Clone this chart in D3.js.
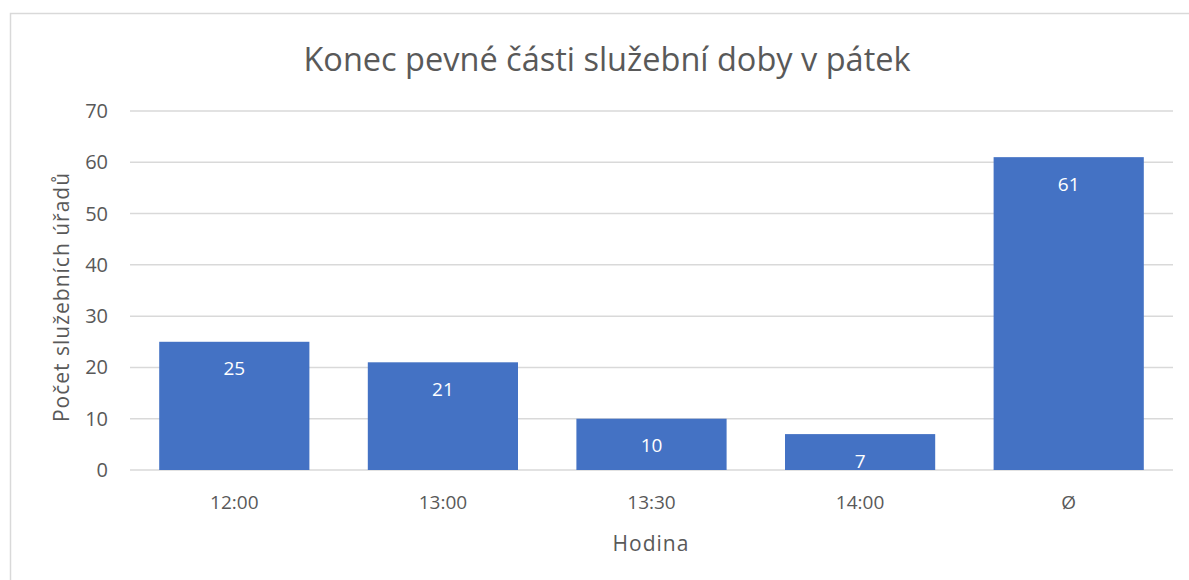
<!DOCTYPE html>
<html>
<head>
<meta charset="utf-8">
<script src="https://cdn.jsdelivr.net/npm/d3@7"></script>
<style>
  body { margin: 0; background: #fff; }
  svg text { font-family: "Open Sans", "Noto Sans", sans-serif; fill: #595959; }
</style>
</head>
<body>
<div id="chart"></div>
<script>
const categories = ['12:00', '13:00', '13:30', '14:00', 'Ø'];
const values = [25, 21, 10, 7, 61];
const yTicks = [0, 10, 20, 30, 40, 50, 60, 70];

const width = 1189;
const height = 580;
const plot = {left: 130, right: 1173, top: 111, bottom: 470};

let svg = d3.select('#chart').append('svg')
  .attr('width', width)
  .attr('height', height)

// chart frame
svg.append('rect')
  .attr('x', 10.5)
  .attr('y', 13.5)
  .attr('width', width)
  .attr('height', height)
  .attr('fill', 'none')
  .attr('stroke', '#d9d9d9')
  .attr('stroke-width', 1.5)

let x = d3.scaleBand()
  .domain(categories)
  .range([plot.left, plot.right])
  .paddingInner(0.28)
  .paddingOuter(0.14)

let y = d3.scaleLinear()
  .domain([0, 70])
  .range([plot.bottom, plot.top])

// gridlines
svg.append('g')
  .selectAll('line')
  .data(yTicks)
  .join('line')
    .attr('x1', plot.left)
    .attr('x2', plot.right)
    .attr('y1', d => y(d))
    .attr('y2', d => y(d))
    .attr('stroke', '#d9d9d9')
    .attr('stroke-width', 1.5)

// y tick labels
svg.append('g')
  .selectAll('text')
  .data(yTicks)
  .join('text')
    .attr('x', 108)
    .attr('y', d => y(d))
    .attr('dy', '0.35em')
    .attr('text-anchor', 'end')
    .style('font-size', '20px')
    .text(d => d)

// bars
svg.append('g')
  .selectAll('rect')
  .data(values)
  .join('rect')
    .attr('x', (d, i) => x(categories[i]))
    .attr('width', x.bandwidth())
    .attr('y', d => y(d))
    .attr('height', d => y(0) - y(d))
    .attr('fill', '#4472c4')

// value labels
svg.append('g')
  .selectAll('text')
  .data(values)
  .join('text')
    .attr('x', (d, i) => x(categories[i]) + x.bandwidth() / 2)
    .attr('y', d => y(d) + 27)
    .attr('dy', '0.35em')
    .attr('text-anchor', 'middle')
    .style('font-size', '19px')
    .style('fill', '#fff')
    .text(d => d)

// x tick labels
svg.append('g')
  .selectAll('text')
  .data(categories)
  .join('text')
    .attr('x', d => x(d) + x.bandwidth() / 2)
    .attr('y', 502)
    .attr('dy', '0.35em')
    .attr('text-anchor', 'middle')
    .style('font-size', '19px')
    .text(d => d)

// title
svg.append('text')
  .attr('x', 607)
  .attr('y', 60)
  .attr('dy', '0.35em')
  .attr('text-anchor', 'middle')
  .style('font-size', '32.5px')
  .text('Konec pevné části služební doby v pátek')

// axis titles
svg.append('text')
  .attr('x', 651)
  .attr('y', 544)
  .attr('dy', '0.35em')
  .attr('text-anchor', 'middle')
  .style('font-size', '21px')
  .style('letter-spacing', '1px')
  .text('Hodina')

svg.append('text')
  .attr('transform', 'translate(62, 297) rotate(-90)')
  .attr('dy', '0.35em')
  .attr('text-anchor', 'middle')
  .style('font-size', '21px')
  .style('letter-spacing', '1px')
  .text('Počet služebních úřadů')
</script>
</body>
</html>
